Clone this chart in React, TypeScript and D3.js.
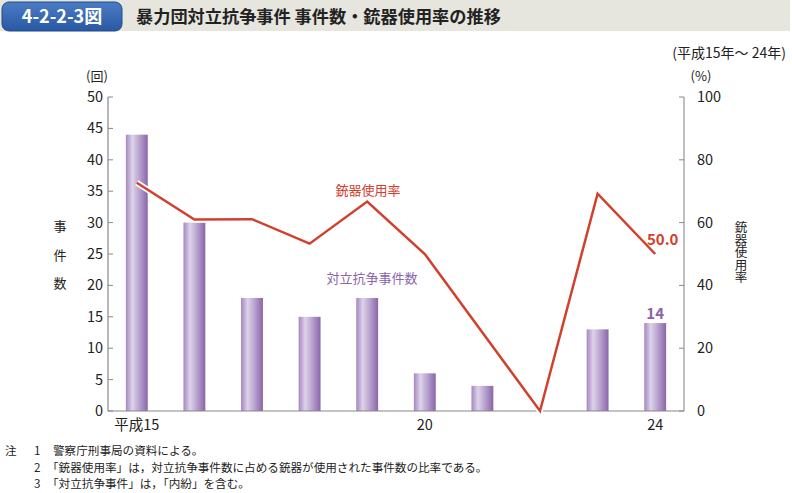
import * as d3 from "d3";
import { useEffect, useRef } from "react";

const years = ["平成15", "16", "17", "18", "19", "20", "21", "22", "23", "24"];
const shownTicks = ["平成15", "20", "24"];
const cases = [44, 30, 18, 15, 18, 6, 4, 0, 13, 14];
const gunRate = [72.7, 61.0, 61.1, 53.3, 66.7, 50.0, 25.0, 0, 69.2, 50.0];
const leftTicks = [0, 5, 10, 15, 20, 25, 30, 35, 40, 45, 50];
const rightTicks = [0, 20, 40, 60, 80, 100];
const notes = [
    "警察庁刑事局の資料による。",
    "「銃器使用率」は，対立抗争事件数に占める銃器が使用された事件数の比率である。",
    "「対立抗争事件」は，「内紛」を含む。",
];

const W = 792;
const H = 493;
const FONT = "'Noto Sans CJK JP', 'Noto Sans', sans-serif";

export default function App() {
    const svgRef = useRef<SVGSVGElement | null>(null);

    useEffect(() => {
        const svg = d3.select(svgRef.current);
        svg.selectAll("*").remove();

        const left = 108;
        const right = 684;
        const top = 97;
        const bottom = 411;

        const x = d3
            .scaleBand()
            .domain(years)
            .range([left, right])
            .paddingInner(0.62)
            .paddingOuter(0.31);
        const yL = d3.scaleLinear().domain([0, 50]).range([bottom, top]);
        const yR = d3.scaleLinear().domain([0, 100]).range([bottom, top]);
        const cx = (i: number) => x(years[i])! + x.bandwidth() / 2;

        const defs = svg.append("defs");
        const grad = defs
            .append("linearGradient")
            .attr("id", "barGrad")
            .attr("x1", "0%")
            .attr("x2", "100%");
        grad.append("stop").attr("offset", "0%").attr("stop-color", "#a486c0");
        grad.append("stop").attr("offset", "30%").attr("stop-color", "#ddd3ea");
        grad.append("stop").attr("offset", "65%").attr("stop-color", "#b49dcb");
        grad.append("stop").attr("offset", "100%").attr("stop-color", "#8a65a8");

        const blueGrad = defs
            .append("linearGradient")
            .attr("id", "blueGrad")
            .attr("x1", "0%")
            .attr("y1", "0%")
            .attr("x2", "0%")
            .attr("y2", "100%");
        blueGrad.append("stop").attr("offset", "0%").attr("stop-color", "#4a7cc4");
        blueGrad.append("stop").attr("offset", "100%").attr("stop-color", "#2a58a3");

        // Title bar
        svg.append("rect")
            .attr("x", 0)
            .attr("y", 0)
            .attr("width", 790)
            .attr("height", 31)
            .attr("fill", "#e6e5de");
        svg.append("rect")
            .attr("x", 2)
            .attr("y", 2)
            .attr("width", 120)
            .attr("height", 29)
            .attr("rx", 7)
            .attr("fill", "url(#blueGrad)")
            .attr("stroke", "#1f4a8f")
            .attr("stroke-width", 1);
        svg.append("text")
            .attr("x", 62)
            .attr("y", 23)
            .attr("text-anchor", "middle")
            .attr("font-family", FONT)
            .attr("font-weight", "bold")
            .attr("font-size", 18)
            .attr("fill", "#fff")
            .text("4-2-2-3図");
        svg.append("text")
            .attr("x", 136)
            .attr("y", 23)
            .attr("font-family", FONT)
            .attr("font-weight", "bold")
            .attr("font-size", 17.2)
            .attr("fill", "#222")
            .text("暴力団対立抗争事件 事件数・銃器使用率の推移");

        svg.append("text")
            .attr("x", 786)
            .attr("y", 58)
            .attr("text-anchor", "end")
            .attr("font-family", FONT)
            .attr("font-size", 14)
            .attr("fill", "#222")
            .text("(平成15年～ 24年)");

        const g = svg.append("g").attr("font-family", FONT);

        // Bars
        g.selectAll("rect.bar")
            .data(cases)
            .enter()
            .append("rect")
            .attr("class", "bar")
            .attr("x", (_, i) => x(years[i])!)
            .attr("width", x.bandwidth())
            .attr("y", (d) => yL(d))
            .attr("height", (d) => bottom - yL(d))
            .attr("fill", "url(#barGrad)");

        // Left axis
        const la = g.append("g").attr("transform", `translate(${left},0)`);
        la.append("line")
            .attr("y1", top)
            .attr("y2", bottom)
            .attr("stroke", "#888")
            .attr("stroke-width", 1.2);
        la.selectAll("line.tick")
            .data(leftTicks)
            .enter()
            .append("line")
            .attr("x1", 0)
            .attr("x2", 5)
            .attr("y1", (d) => yL(d))
            .attr("y2", (d) => yL(d))
            .attr("stroke", "#888");
        la.selectAll("text")
            .data(leftTicks)
            .enter()
            .append("text")
            .attr("x", -5)
            .attr("y", (d) => yL(d) + 5)
            .attr("text-anchor", "end")
            .attr("font-size", 14.5)
            .attr("fill", "#222")
            .text((d) => d);

        // Right axis
        const ra = g.append("g").attr("transform", `translate(${right},0)`);
        ra.append("line")
            .attr("y1", top)
            .attr("y2", bottom)
            .attr("stroke", "#aaa")
            .attr("stroke-width", 1.5);
        ra.selectAll("line.tick")
            .data(rightTicks)
            .enter()
            .append("line")
            .attr("x1", 0)
            .attr("x2", -5)
            .attr("y1", (d) => yR(d))
            .attr("y2", (d) => yR(d))
            .attr("stroke", "#888");
        ra.selectAll("text")
            .data(rightTicks)
            .enter()
            .append("text")
            .attr("x", 13)
            .attr("y", (d) => yR(d) + 5)
            .attr("font-size", 14.5)
            .attr("fill", "#222")
            .text((d) => d);

        // Bottom axis line
        g.append("line")
            .attr("x1", left)
            .attr("x2", right)
            .attr("y1", bottom)
            .attr("y2", bottom)
            .attr("stroke", "#888")
            .attr("stroke-width", 1.2);
        g.selectAll("text.xl")
            .data(shownTicks)
            .enter()
            .append("text")
            .attr("class", "xl")
            .attr("x", (d) => x(d)! + x.bandwidth() / 2)
            .attr("y", 430)
            .attr("text-anchor", "middle")
            .attr("font-size", 14.5)
            .attr("fill", "#222")
            .text((d) => d);

        // Units
        g.append("text")
            .attr("x", 97)
            .attr("y", 81)
            .attr("text-anchor", "middle")
            .attr("font-size", 13)
            .attr("fill", "#222")
            .text("(回)");
        g.append("text")
            .attr("x", 701)
            .attr("y", 81)
            .attr("text-anchor", "middle")
            .attr("font-size", 13)
            .attr("fill", "#222")
            .text("(%)");

        // Axis titles (vertical)
        ["事", "件", "数"].forEach((c, i) => {
            g.append("text")
                .attr("x", 60)
                .attr("y", 231 + i * 28.5)
                .attr("text-anchor", "middle")
                .attr("font-size", 13)
                .attr("fill", "#222")
                .text(c);
        });
        g.append("text")
            .attr("x", 741)
            .attr("y", 221)
            .attr("font-size", 12.5)
            .attr("fill", "#222")
            .style("writing-mode", "vertical-rl")
            .style("text-orientation", "upright")
            .text("銃器使用率");

        // Line
        const line = d3
            .line<number>()
            .x((_, i) => cx(i))
            .y((d) => yR(d));
        g.append("path")
            .datum(gunRate)
            .attr("d", line)
            .attr("fill", "none")
            .attr("stroke", "#fff")
            .attr("stroke-width", 6)
            .attr("stroke-linejoin", "miter");
        g.append("path")
            .datum(gunRate)
            .attr("d", line)
            .attr("fill", "none")
            .attr("stroke", "#d2402c")
            .attr("stroke-width", 2.5)
            .attr("stroke-linejoin", "miter");

        // Labels
        g.append("text")
            .attr("x", 368)
            .attr("y", 195)
            .attr("text-anchor", "middle")
            .attr("font-size", 13)
            .attr("fill", "#d2402c")
            .text("銃器使用率");
        g.append("text")
            .attr("x", 372)
            .attr("y", 283)
            .attr("text-anchor", "middle")
            .attr("font-size", 13)
            .attr("fill", "#8a65a8")
            .text("対立抗争事件数");
        g.append("text")
            .attr("x", 647)
            .attr("y", 245)
            .attr("font-size", 15)
            .attr("font-weight", "bold")
            .attr("fill", "#d2402c")
            .text(gunRate[gunRate.length - 1].toFixed(1));
        g.append("text")
            .attr("x", cx(9))
            .attr("y", 319)
            .attr("text-anchor", "middle")
            .attr("font-size", 15)
            .attr("font-weight", "bold")
            .attr("fill", "#8a65a8")
            .text(cases[cases.length - 1]);

        // Notes
        const nt = svg.append("g").attr("font-family", FONT).attr("font-size", 11.6).attr("fill", "#222");
        nt.append("text").attr("x", 5).attr("y", 455).text("注");
        notes.forEach((n, i) => {
            const yy = 455 + i * 16.5;
            nt.append("text").attr("x", 34).attr("y", yy).text(String(i + 1));
            nt.append("text").attr("x", i === 0 ? 53 : 47).attr("y", yy).text(n);
        });
    }, []);

    return (
        <svg
            ref={svgRef}
            width={W}
            height={H}
            style={{ position: "absolute", left: 0, top: 0, background: "#fff" }}
        ></svg>
    );
}
